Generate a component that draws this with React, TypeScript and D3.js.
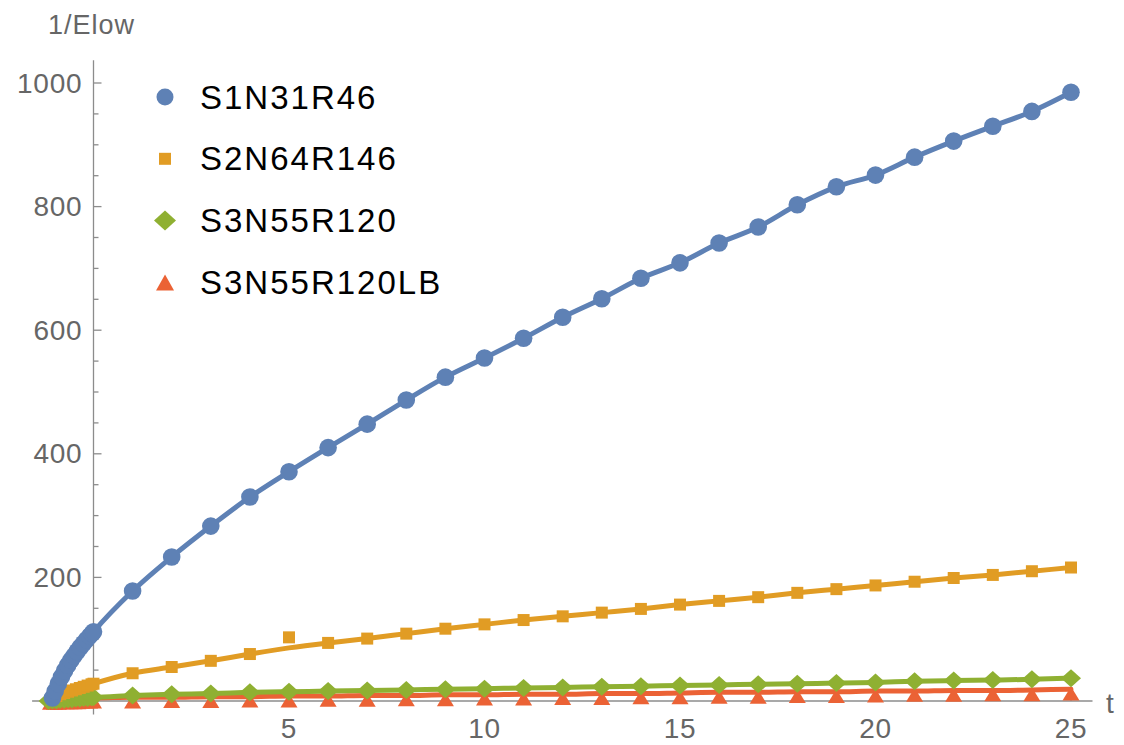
import React from "react";
import * as d3 from "d3";

// ---------- data ----------
const seriesNames = ["S1N31R46", "S2N64R146", "S3N55R120", "S3N55R120LB"];
const colors = ["#5E81B5", "#E19C24", "#8FB032", "#EB6235"];

const tInt = [1, 2, 3, 4, 5, 6, 7, 8, 9, 10, 11, 12, 13, 14, 15, 16, 17, 18, 19, 20, 21, 22, 23, 24, 25];

// dense early-time samples (t <= 0)
const blueEarlyT = [-1.05, -0.98, -0.9, -0.82, -0.74, -0.66, -0.58, -0.5, -0.42, -0.34, -0.26, -0.18, -0.1, -0.04, 0];
const blueEarlyV = [5, 16, 28, 39, 49, 58, 66, 73, 80, 87, 93, 99, 105, 109, 112];
const blueV = [178, 233, 283, 330, 371, 410, 448, 487, 524, 555, 587, 621, 651, 684, 709, 741, 767, 803, 832, 851, 880, 906, 930, 954, 985];

const orangeEarlyT = [-1.05, -0.95, -0.85, -0.75, -0.65, -0.55, -0.45, -0.35, -0.25, -0.15, -0.05, 0];
const orangeEarlyV = [4, 8, 11, 13, 15, 17, 19, 21, 23, 25, 27, 28];
const orangeV = [45, 55, 65, 76, 103, 94, 101, 109, 117, 124, 131, 137, 143, 149, 156, 162, 168, 175, 181, 187, 193, 199, 204, 210, 216];
const orangeFitV = [45, 55, 65, 76, 86, 94, 101, 109, 117, 124, 131, 137, 143, 149, 156, 162, 168, 175, 181, 187, 193, 199, 204, 210, 216];

const greenEarlyT = [-1.15, -1.05, -0.95, -0.85, -0.75, -0.65, -0.55, -0.45, -0.35, -0.25, -0.15, -0.05, 0];
const greenEarlyV = [0, 1, 1, 2, 2, 3, 3, 4, 4, 5, 5, 6, 6];
const greenV = [9, 11, 12, 14, 15, 16, 17, 18, 19, 20, 21, 22, 23, 24, 25, 26, 27, 28, 29, 30, 32, 33, 34, 35, 37];

const redEarlyT = [-1.1, -1.0, -0.9, -0.8, -0.7, -0.6, -0.5, -0.4, -0.3, -0.2, -0.1, 0];
const redEarlyV = [-3, -3, -3, -2, -2, -2, -2, -2, -1, -1, -1, -1];
const redV = [-1, 0, 0, 1, 1, 2, 2, 3, 3, 4, 4, 5, 5, 6, 6, 7, 7, 8, 8, 9, 10, 10, 11, 11, 12];
const redFitEarlyV = [3, 3, 3, 3, 4, 4, 4, 4, 4, 5, 5, 5];
const redFitV = [6, 6, 7, 7, 8, 8, 9, 9, 10, 10, 11, 11, 12, 12, 13, 14, 14, 15, 15, 16, 16, 17, 17, 18, 19];

const xTickMajor = [5, 10, 15, 20, 25];
const yTickMajor = [200, 400, 600, 800, 1000];

// ---------- layout ----------
const W = 1124;
const H = 745;
const xScale = d3.scaleLinear().domain([0, 25]).range([93.5, 1071]);
const yScale = d3.scaleLinear().domain([0, 1000]).range([701, 83]);
const xAxisExtent = [-1.57, 25.55];
const yAxisExtent = [-22, 1037];

const axisColor = "#8c8c8c";
const labelColor = "#666666";

type P = { t: number; v: number };
const zip = (ts: number[], vs: number[]): P[] => ts.map((t, i) => ({ t, v: vs[i] }));

const circlePath = (cx: number, cy: number, r: number) =>
  `M${cx + r},${cy}A${r},${r} 0 1,1 ${cx - r},${cy}A${r},${r} 0 1,1 ${cx + r},${cy}Z`;
const squarePath = (cx: number, cy: number, s: number) =>
  `M${cx - s / 2},${cy - s / 2}h${s}v${s}h${-s}Z`;
const diamondPath = (cx: number, cy: number, w: number, h: number) =>
  `M${cx},${cy - h / 2}L${cx + w / 2},${cy}L${cx},${cy + h / 2}L${cx - w / 2},${cy}Z`;
const trianglePath = (cx: number, cy: number, w: number, h: number) =>
  `M${cx},${cy - h / 2}L${cx + w / 2},${cy + h / 2}L${cx - w / 2},${cy + h / 2}Z`;

const markerPath = (k: number, cx: number, cy: number) => {
  if (k === 0) return circlePath(cx, cy, 8.8);
  if (k === 1) return squarePath(cx, cy, 12);
  if (k === 2) return diamondPath(cx, cy, 20, 18);
  return trianglePath(cx, cy, 17, 14);
};

const legendMarker = (k: number, cx: number, cy: number) => {
  if (k === 0) return circlePath(cx, cy, 8.5);
  if (k === 1) return squarePath(cx, cy, 12);
  if (k === 2) return diamondPath(cx, cy, 22, 20);
  return trianglePath(cx, cy, 18, 16);
};

export default function App() {
  const line = d3
    .line<P>()
    .x((d) => xScale(d.t))
    .y((d) => yScale(d.v))
    .curve(d3.curveMonotoneX);

  const points: P[][] = [
    [...zip(blueEarlyT, blueEarlyV), ...zip(tInt, blueV)],
    [...zip(orangeEarlyT, orangeEarlyV), ...zip(tInt, orangeV)],
    [...zip(greenEarlyT, greenEarlyV), ...zip(tInt, greenV)],
    [...zip(redEarlyT, redEarlyV), ...zip(tInt, redV)],
  ];
  const fits: P[][] = [
    [...zip(blueEarlyT, blueEarlyV), ...zip(tInt, blueV)],
    [...zip(orangeEarlyT, orangeEarlyV), ...zip(tInt, orangeFitV)],
    [...zip(greenEarlyT, greenEarlyV), ...zip(tInt, greenV)],
    [...zip(redEarlyT, redFitEarlyV), ...zip(tInt, redFitV)],
  ];

  const xMinor = d3.range(-1, 26, 1).filter((t) => !xTickMajor.includes(t) && t !== 0);
  const yMinor = d3.range(50, 1001, 50).filter((v) => !yTickMajor.includes(v));

  const x0 = xScale(0);
  const y0 = yScale(0);
  const drawOrder = [3, 2, 1, 0];

  return (
    <svg
      width={W}
      height={H}
      style={{ position: "absolute", left: 0, top: 0, background: "#fff" }}
      fontFamily="'Liberation Sans', Arial, sans-serif"
    >
      {/* axes */}
      <g stroke={axisColor} strokeWidth={1.3} fill="none">
        <line x1={xScale(xAxisExtent[0])} x2={xScale(xAxisExtent[1])} y1={y0} y2={y0} />
        <line x1={x0} x2={x0} y1={yScale(yAxisExtent[0])} y2={yScale(yAxisExtent[1])} />
        {xTickMajor.map((t) => (
          <line key={"xM" + t} x1={xScale(t)} x2={xScale(t)} y1={y0} y2={y0 - 8} />
        ))}
        {xMinor.map((t) => (
          <line key={"xm" + t} x1={xScale(t)} x2={xScale(t)} y1={y0} y2={y0 - 5} />
        ))}
        {yTickMajor.map((v) => (
          <line key={"yM" + v} x1={x0} x2={x0 + 8} y1={yScale(v)} y2={yScale(v)} />
        ))}
        {yMinor.map((v) => (
          <line key={"ym" + v} x1={x0} x2={x0 + 5} y1={yScale(v)} y2={yScale(v)} />
        ))}
      </g>

      {/* tick labels */}
      <g fill={labelColor} fontSize={28} letterSpacing={0.8}>
        {xTickMajor.map((t) => (
          <text key={"xl" + t} x={xScale(t)} y={y0 + 27} textAnchor="middle" dominantBaseline="central">
            {t}
          </text>
        ))}
        {yTickMajor.map((v) => (
          <text key={"yl" + v} x={x0 - 11} y={yScale(v)} textAnchor="end" dominantBaseline="central">
            {v}
          </text>
        ))}
      </g>
      <text x={48} y={25} fill={labelColor} fontSize={27} letterSpacing={1} dominantBaseline="central">
        1/Elow
      </text>
      <text x={1106} y={y0 + 2} fill={labelColor} fontSize={28} dominantBaseline="central">
        t
      </text>

      {/* fitted lines */}
      {drawOrder.map((k) => (
        <path
          key={"fit" + k}
          d={line(fits[k]) || ""}
          fill="none"
          stroke={colors[k]}
          strokeWidth={5}
          strokeLinejoin="round"
          strokeLinecap="round"
        />
      ))}

      {/* markers */}
      {drawOrder.map((k) => (
        <g key={"pts" + k} fill={colors[k]}>
          {points[k].map((p, i) => (
            <path key={i} d={markerPath(k, xScale(p.t), yScale(p.v))} />
          ))}
        </g>
      ))}

      {/* legend */}
      <g>
        {seriesNames.map((name, k) => {
          const cy = 97 + k * 61.8;
          return (
            <g key={name}>
              <path d={legendMarker(k, 165, cy)} fill={colors[k]} />
              <text x={200} y={cy} fontSize={33} letterSpacing={2} fill="#000" dominantBaseline="central">
                {name}
              </text>
            </g>
          );
        })}
      </g>
    </svg>
  );
}
